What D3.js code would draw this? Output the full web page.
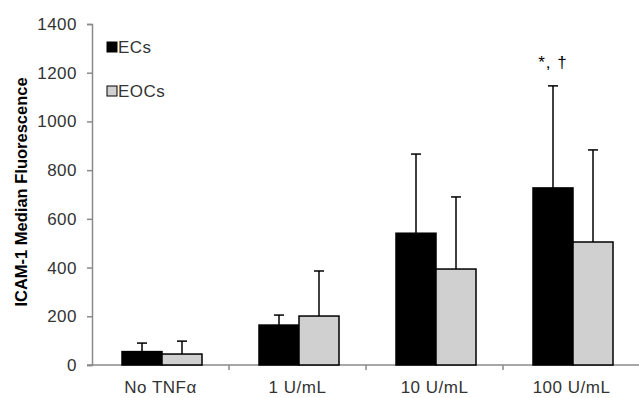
<!DOCTYPE html>
<html>
<head>
<meta charset="utf-8">
<script src="https://cdn.jsdelivr.net/npm/d3@7"></script>
<style>
  body { margin: 0; background: #fff; }
  text { font-family: "Liberation Sans", Arial, sans-serif; }
</style>
</head>
<body>
<div id="container"></div>
<script>
/* CONSTANTS AND GLOBALS */
const width = 639,
  height = 398,
  margin = {top: 24, bottom: 33, left: 92, right: 0};

/* DATA */
const categories = ["No TNFα", "1 U/mL", "10 U/mL", "100 U/mL"];
const series = ["ECs", "EOCs"];
const ecs = [55, 164, 541, 727];
const ecsErr = [35, 41, 325, 419];
const eocs = [45, 201, 394, 505];
const eocsErr = [53, 185, 296, 378];
const yTicks = [0, 200, 400, 600, 800, 1000, 1200, 1400];
const colors = {ECs: "#000000", EOCs: "#d0d0d0"};

const rows = [];
categories.forEach((c, i) => {
  rows.push({cat: c, s: "ECs", v: ecs[i], e: ecsErr[i]});
  rows.push({cat: c, s: "EOCs", v: eocs[i], e: eocsErr[i]});
});

/* SCALES */
const xScale = d3.scaleBand()
  .domain(categories)
  .range([margin.left, width + 1]);

const xInner = d3.scaleBand()
  .domain(series)
  .range([30, 110]);

const yScale = d3.scaleLinear()
  .domain([0, 1400])
  .range([height - margin.bottom, margin.top]);

/* HTML ELEMENTS */
const svg = d3.select("#container")
  .append("svg")
  .attr("width", width)
  .attr("height", height);

// y axis
const yAxis = d3.axisLeft(yScale)
  .tickValues(yTicks)
  .tickFormat(d3.format("d"))
  .tickSize(5)
  .tickPadding(10);
const gy = svg.append("g")
  .attr("transform", `translate(${margin.left},0)`)
  .call(yAxis);
gy.select(".domain").attr("stroke", "#8a8a8a").attr("stroke-width", 1.5);
gy.selectAll(".tick line").attr("stroke", "#8a8a8a").attr("stroke-width", 1.5);
gy.selectAll(".tick text")
  .attr("fill", "#333")
  .style("font-size", "17px")
  .style("letter-spacing", "0.5px");

// x axis
const gx = svg.append("g")
  .attr("transform", `translate(0,${yScale(0)})`);
gx.append("line")
  .attr("x1", margin.left - 5).attr("x2", width)
  .attr("stroke", "#8a8a8a").attr("stroke-width", 1.5);
gx.selectAll("line.sep")
  .data(categories.slice(1))
  .join("line")
  .attr("class", "sep")
  .attr("x1", d => xScale(d)).attr("x2", d => xScale(d))
  .attr("y1", 0).attr("y2", 5)
  .attr("stroke", "#8a8a8a").attr("stroke-width", 1.5);
gx.selectAll("text")
  .data(categories)
  .join("text")
  .attr("x", d => xScale(d) + xScale.bandwidth() / 2)
  .attr("y", 28)
  .attr("text-anchor", "middle")
  .attr("fill", "#333")
  .style("font-size", "17px")
  .style("letter-spacing", "0.5px")
  .text(d => d);

// error bars (upward only)
const err = svg.append("g").attr("stroke", "#000").attr("stroke-width", 1.5);
err.selectAll("line.v")
  .data(rows)
  .join("line")
  .attr("class", "v")
  .attr("x1", d => xScale(d.cat) + xInner(d.s) + xInner.bandwidth() / 2)
  .attr("x2", d => xScale(d.cat) + xInner(d.s) + xInner.bandwidth() / 2)
  .attr("y1", d => yScale(d.v))
  .attr("y2", d => yScale(d.v + d.e));
err.selectAll("line.cap")
  .data(rows)
  .join("line")
  .attr("class", "cap")
  .attr("x1", d => xScale(d.cat) + xInner(d.s) + xInner.bandwidth() / 2 - 5)
  .attr("x2", d => xScale(d.cat) + xInner(d.s) + xInner.bandwidth() / 2 + 5)
  .attr("y1", d => yScale(d.v + d.e))
  .attr("y2", d => yScale(d.v + d.e));

// bars
svg.selectAll("rect.bar")
  .data(rows)
  .join("rect")
  .attr("class", "bar")
  .attr("x", d => xScale(d.cat) + xInner(d.s))
  .attr("y", d => yScale(d.v))
  .attr("width", xInner.bandwidth())
  .attr("height", d => yScale(0) - yScale(d.v))
  .attr("fill", d => colors[d.s])
  .attr("stroke", "#000")
  .attr("stroke-width", 1.5);

// significance marker
svg.append("text")
  .attr("x", xScale("100 U/mL") + xInner("ECs") + xInner.bandwidth() / 2)
  .attr("y", yScale(1220))
  .attr("text-anchor", "middle")
  .attr("fill", "#000")
  .style("font-size", "17px")
  .style("letter-spacing", "1px")
  .text("*, †");

// legend
const legend = svg.append("g");
series.forEach((s, i) => {
  const ly = 42 + i * 44;
  legend.append("rect")
    .attr("x", 107).attr("y", ly)
    .attr("width", 10).attr("height", 10)
    .attr("fill", colors[s])
    .attr("stroke", "#000").attr("stroke-width", 1);
  legend.append("text")
    .attr("x", 118).attr("y", ly + 11)
    .attr("fill", "#333")
    .style("font-size", "17px")
    .style("letter-spacing", "0.5px")
    .text(s);
});

// y title
svg.append("text")
  .attr("transform", "translate(27,192) rotate(-90)")
  .attr("text-anchor", "middle")
  .attr("fill", "#000")
  .style("font-size", "16.5px")
  .style("font-weight", "bold")
  .text("ICAM-1 Median Fluorescence");
</script>
</body>
</html>
